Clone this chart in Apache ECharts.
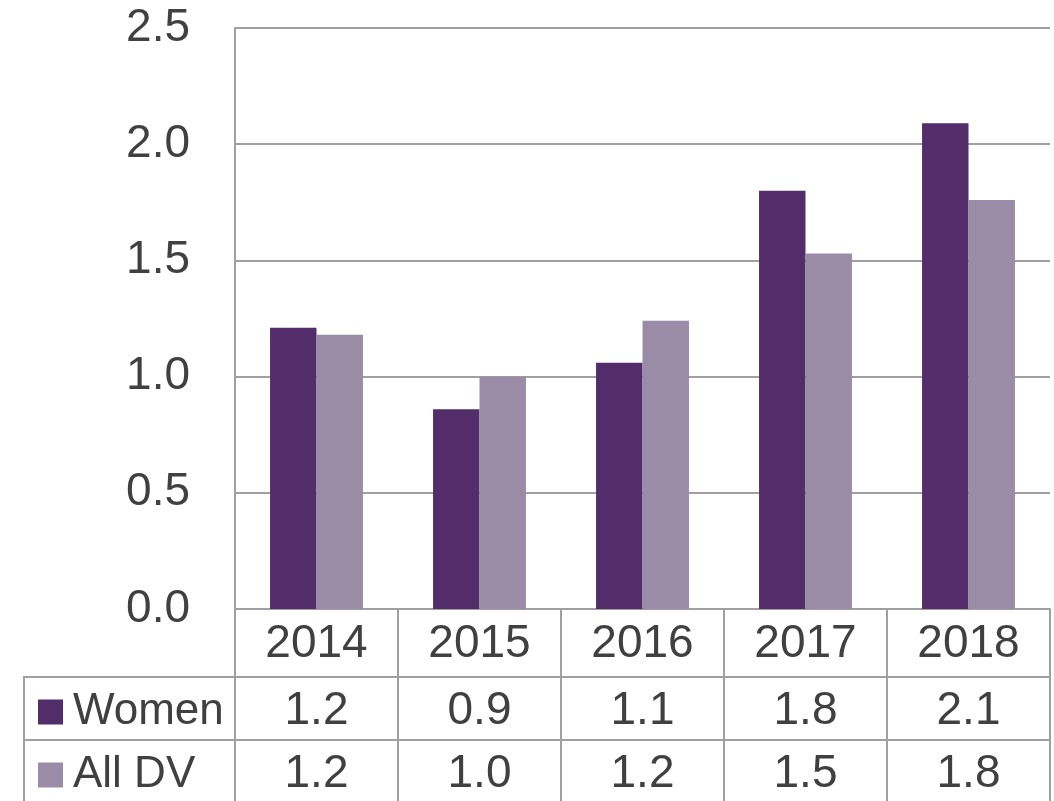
<!DOCTYPE html>
<html>
<head>
<meta charset="utf-8">
<title>Women vs All DV</title>
<script src="https://cdn.jsdelivr.net/npm/echarts@6/dist/echarts.min.js"></script>
<style>
  html, body { margin: 0; padding: 0; background: #fff; }
  #main { width: 1054px; height: 801px; }
</style>
</head>
<body>
<div id="main"></div>
<script type="text/javascript">
// data
var years = ['2014', '2015', '2016', '2017', '2018'];
var seriesNames = ['Women', 'All DV'];
var women = [1.21, 0.86, 1.06, 1.80, 2.09];
var allDV = [1.18, 1.00, 1.24, 1.53, 1.76];
var yTicks = [0, 0.5, 1.0, 1.5, 2.0, 2.5];

var colWomen = '#532D6A';
var colAll = '#9A8BA6';
var lineCol = '#a0a0a0';
var textCol = '#404040';
var font = '"Liberation Sans", Arial, sans-serif';

// table rows under the plot are extra category axes
function fmt(v) { return v.toFixed(1); }

function tableAxis(data, offset, tickLen, margin) {
    return {
        type: 'category',
        position: 'bottom',
        offset: offset,
        data: data,
        axisLine: { show: true, lineStyle: { color: lineCol, width: 2 } },
        axisTick: { show: true, interval: 0, length: tickLen, lineStyle: { color: lineCol, width: 2 } },
        axisLabel: { interval: 0, margin: margin, fontSize: 46, lineHeight: 46, color: textCol, fontFamily: font },
        splitLine: { show: false }
    };
}

// one legend per table row
function rowLegend(name, top) {
    return {
        left: 38,
        top: top,
        padding: 0,
        itemWidth: 25,
        itemHeight: 25,
        icon: 'rect',
        selectedMode: false,
        data: [name],
        textStyle: { fontSize: 44, color: textCol, fontFamily: font, padding: [0, 0, 0, 5] }
    };
}

var chart = echarts.init(document.getElementById('main'));

var option = {
    animation: false,
    grid: { left: 235, right: 4, top: 28, bottom: 192 },
    legend: [
        rowLegend(seriesNames[0], 690),
        rowLegend(seriesNames[1], 753)
    ],
    xAxis: [
        tableAxis(years, 0, 68, 12),
        tableAxis(women.map(fmt), 68, 63, 11),
        tableAxis(allDV.map(fmt), 131, 70, 11)
    ],
    yAxis: {
        type: 'value',
        min: yTicks[0],
        max: yTicks[yTicks.length - 1],
        interval: 0.5,
        axisLine: { show: true, lineStyle: { color: lineCol, width: 2 } },
        axisTick: { show: false },
        axisLabel: { margin: 45, fontSize: 46, color: textCol, fontFamily: font, formatter: function (v) { return v.toFixed(1); } },
        splitLine: { show: true, lineStyle: { color: lineCol, width: 2 } }
    },
    series: [
        {
            name: seriesNames[0], type: 'bar', xAxisIndex: 0, data: women,
            barGap: '0%', barCategoryGap: '43%',
            itemStyle: { color: colWomen }
        },
        {
            name: seriesNames[1], type: 'bar', xAxisIndex: 0, data: allDV,
            barGap: '0%', barCategoryGap: '43%',
            itemStyle: { color: colAll }
        }
    ],
    // left part of the table (row header column)
    graphic: [
        { type: 'line', shape: { x1: 24, y1: 677, x2: 236, y2: 677 }, style: { stroke: lineCol, lineWidth: 2 } },
        { type: 'line', shape: { x1: 24, y1: 740, x2: 236, y2: 740 }, style: { stroke: lineCol, lineWidth: 2 } },
        { type: 'line', shape: { x1: 24, y1: 676, x2: 24, y2: 801 }, style: { stroke: lineCol, lineWidth: 2 } }
    ]
};

chart.setOption(option);
</script>
</body>
</html>
